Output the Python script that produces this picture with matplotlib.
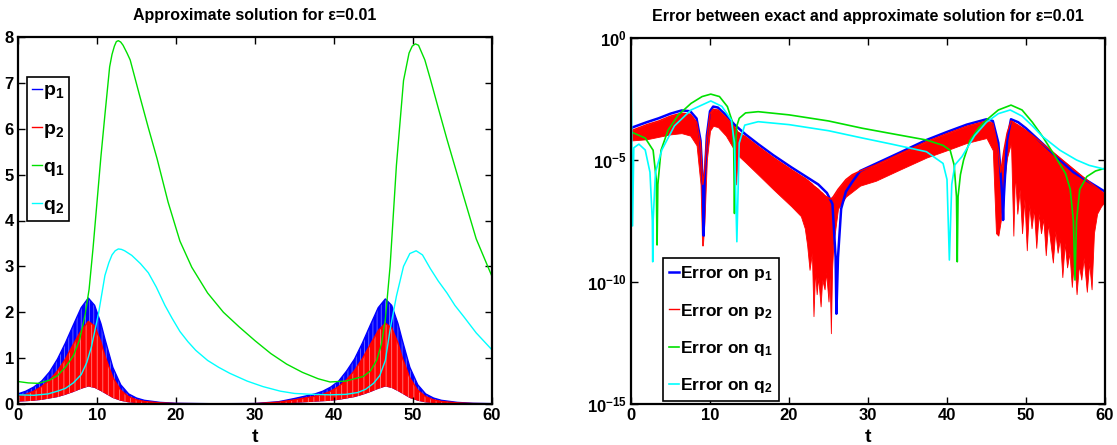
import matplotlib
matplotlib.use('Agg')
import matplotlib.pyplot as plt
from matplotlib.ticker import FixedLocator, NullLocator, FixedFormatter

plt.rcParams['font.family'] = ['Liberation Sans', 'DejaVu Sans']
plt.rcParams['font.weight'] = 'bold'
plt.rcParams['mathtext.fontset'] = 'custom'
plt.rcParams['mathtext.rm'] = 'Liberation Sans:bold'
plt.rcParams['mathtext.it'] = 'Liberation Sans:bold'
plt.rcParams['mathtext.bf'] = 'Liberation Sans:bold'
plt.rcParams['hatch.linewidth'] = 0.6

# ---- left panel: approximate solution ----
# p1, p2 oscillate fast: keep their upper / lower envelopes
t_p = [0, 1, 2, 3, 4, 5, 6, 7, 8, 8.9,
       9.7, 10.5, 11, 12, 13, 14, 15, 16, 18, 20,
       25, 30, 33, 35, 37.6, 38.6, 39.6, 40.6, 41.6, 42.6,
       43.6, 44.6, 45.6, 46.5, 47.3, 48.1, 48.6, 49.6, 50.6, 51.6,
       52.6, 53.6, 55.6, 57.6, 60]
p1_up = [0.22, 0.28, 0.37, 0.5, 0.7, 0.98, 1.33, 1.72, 2.1, 2.31,
         2.15, 1.75, 1.42, 0.8, 0.42, 0.22, 0.13, 0.08, 0.035, 0.015,
         0.005, 0.01, 0.05, 0.12, 0.22, 0.28, 0.37, 0.5, 0.72, 0.98,
         1.33, 1.72, 2.1, 2.29, 2.15, 1.75, 1.42, 0.8, 0.42, 0.22,
         0.13, 0.08, 0.035, 0.015, 0.008]
p2_up = [0.17, 0.21, 0.28, 0.38, 0.52, 0.72, 0.98, 1.3, 1.6, 1.8,
         1.7, 1.35, 1.05, 0.58, 0.3, 0.16, 0.09, 0.055, 0.025, 0.01,
         0.004, 0.008, 0.04, 0.09, 0.17, 0.21, 0.28, 0.38, 0.53, 0.73,
         0.99, 1.3, 1.6, 1.76, 1.66, 1.33, 1.03, 0.57, 0.3, 0.16,
         0.09, 0.055, 0.025, 0.01, 0.005]
p2_low = [0.05, 0.06, 0.07, 0.09, 0.12, 0.15, 0.2, 0.26, 0.33, 0.38,
          0.35, 0.28, 0.23, 0.13, 0.07, 0.035, 0.02, 0.012, 0.005, 0.003,
          0.001, 0.002, 0.01, 0.025, 0.05, 0.06, 0.07, 0.09, 0.12, 0.15,
          0.2, 0.26, 0.33, 0.38, 0.35, 0.28, 0.23, 0.13, 0.07, 0.035,
          0.02, 0.012, 0.005, 0.003, 0.001]

t_q1 = [0, 1.3, 2.6, 4, 5, 6, 7, 7.8, 8.5, 9.0,
        9.5, 10.0, 10.5, 11.0, 11.6, 11.9, 12.2, 12.45, 12.7, 13.0,
        13.3, 13.8, 14.2, 15.4, 16.5, 17.6, 19, 20.5, 22, 24,
        26, 28, 30, 32, 34, 36, 38, 39.5, 41.5, 43.7,
        44.6, 45.4, 46, 46.5, 47.1, 47.9, 48.8, 49.5, 49.9, 50.3,
        50.7, 51, 51.5, 52.2, 53.2, 54.3, 56.4, 58, 60]
q1 = [0.49, 0.46, 0.45, 0.52, 0.62, 0.8, 1.05, 1.4, 1.95, 2.5,
      3.4, 4.4, 5.4, 6.3, 7.35, 7.62, 7.8, 7.9, 7.92, 7.89,
      7.82, 7.65, 7.5, 6.72, 6.02, 5.35, 4.4, 3.55, 2.98, 2.42,
      2.0, 1.68, 1.38, 1.1, 0.87, 0.69, 0.55, 0.48, 0.5, 0.6,
      0.72, 0.95, 1.3, 1.85, 3.0, 5.2, 7.05, 7.65, 7.8, 7.85,
      7.82, 7.7, 7.5, 7.08, 6.45, 5.77, 4.53, 3.6, 2.78]

t_q2 = [0, 2, 3.8, 5, 6, 7, 8, 8.7, 9.3, 10.2,
        11.0, 11.5, 11.9, 12.3, 12.7, 13.1, 13.5, 14.4, 15.5, 16.5,
        17.5, 18.6, 19.5, 20.5, 21.5, 22.5, 24, 25.4, 26.8, 29,
        31, 33.2, 35, 37.3, 39.5, 41.5, 43, 44, 45, 45.8,
        46.5, 47.1, 47.9, 48.8, 49.6, 50.4, 51.2, 52.2, 53.2, 54.3,
        55.3, 56.4, 58, 60]
q2 = [0.2, 0.19, 0.22, 0.28, 0.34, 0.46, 0.64, 0.9, 1.25, 1.98,
      2.8, 3.08, 3.25, 3.34, 3.38, 3.37, 3.34, 3.24, 3.06, 2.86,
      2.55, 2.15, 1.87, 1.58, 1.36, 1.17, 0.95, 0.8, 0.67, 0.5,
      0.38, 0.28, 0.23, 0.21, 0.2, 0.21, 0.25, 0.32, 0.45, 0.62,
      0.95, 1.62, 2.35, 3.0, 3.28, 3.34, 3.25, 2.95, 2.68, 2.42,
      2.15, 1.91, 1.55, 1.18]

# ---- right panel: errors, stored as log10 exponents ----
t_e1 = [0, 0.3, 2, 3.5, 5, 6.4, 7.5, 8.3, 8.8, 9.1,
        9.2, 9.3, 9.6, 10.0, 10.4, 11, 12, 13.1, 14.5, 16.1,
        18, 20.3, 22, 23.7, 24.8, 25.5, 25.9, 26.0, 26.2, 26.6,
        27.2, 28, 29, 31, 34, 37.4, 40, 42.5, 45, 45.8,
        46.5, 47.0, 47.1, 47.2, 47.6, 48.1, 49, 50, 52, 54.3,
        56, 58, 60]
err_p1 = [-3.7, -3.65, -3.45, -3.29, -3.1, -2.97, -3.0, -3.3, -4.2, -6.0,
          -8.1, -6.0, -4.0, -3.0, -2.81, -2.85, -3.15, -3.55, -3.95, -4.35,
          -4.8, -5.3, -5.65, -6.0, -6.35, -6.8, -9.0, -11.3, -9.0, -7.0,
          -6.3, -5.9, -5.45, -5.15, -4.7, -4.18, -3.85, -3.55, -3.33, -3.4,
          -4.3, -6.5, -7.46, -6.5, -4.2, -3.33, -3.45, -3.7, -4.3, -5.0,
          -5.5, -5.9, -6.3]

t_e2 = [0, 2, 3.5, 5, 6.4, 7.5, 8.3, 8.8, 9.0, 9.1,
        9.3, 9.6, 10.0, 10.4, 11, 12, 13.1, 13.3, 13.5, 14.5,
        16.1, 18, 20.3, 21.5, 22.0, 22.3, 22.6, 22.9, 23.1, 23.3,
        23.5, 23.7, 24.0, 24.2, 24.5, 24.7, 25.0, 25.15, 25.3, 25.45,
        25.6, 26.2, 27.2, 28, 29, 31, 34, 37.4, 40, 42.5,
        45, 45.8, 46.2, 46.5, 46.8, 47.2, 47.6, 48.1, 48.4, 48.6,
        48.9, 49.2, 49.5, 49.8, 50.1, 50.4, 50.7, 51.0, 51.3, 51.6,
        51.9, 52.2, 52.5, 52.8, 53.1, 53.4, 53.7, 54.0, 54.3, 54.6,
        54.9, 55.2, 55.5, 55.8, 56.1, 56.4, 56.7, 57.0, 57.3, 57.7,
        58.0, 58.3, 58.6, 59.0, 59.5, 60]
err_p2_up = [-3.8, -3.55, -3.4, -3.2, -3.08, -3.12, -3.45, -4.3, -5.5, -6.0,
             -5.5, -4.1, -3.1, -2.92, -2.95, -3.25, -3.65, -3.75, -3.85, -4.05,
             -4.45, -4.9, -5.4, -5.65, -5.75, -5.82, -5.9, -5.98, -6.05, -6.1,
             -6.15, -6.2, -6.3, -6.35, -6.45, -6.5, -6.55, -6.58, -6.6, -6.55,
             -6.5, -6.2, -5.8, -5.6, -5.45, -5.2, -4.75, -4.25, -3.92, -3.62,
             -3.4, -3.5, -4.1, -4.6, -5.5, -4.6, -3.9, -3.4, -3.45, -3.5,
             -3.55, -3.62, -3.68, -3.75, -3.82, -3.9, -3.97, -4.05, -4.12, -4.2,
             -4.28, -4.36, -4.44, -4.52, -4.6, -4.68, -4.76, -4.84, -4.92, -5.0,
             -5.08, -5.16, -5.24, -5.32, -5.4, -5.48, -5.56, -5.64, -5.72, -5.82,
             -5.9, -5.98, -6.05, -6.15, -6.28, -6.4]
err_p2_low = [-4.2, -4.15, -4.05, -3.95, -3.9, -4.0, -4.4, -6.0, -8.5, -8.5,
              -7.5, -5.0, -3.8, -3.6, -3.65, -4.0, -4.6, -6.0, -4.8, -5.1,
              -5.6, -6.2, -6.9, -7.3, -7.8, -8.5, -9.5, -8.8, -11.4, -9.5,
              -10.5, -9.8, -11.0, -9.9, -10.3, -9.6, -10.8, -9.8, -12.1, -9.5,
              -8.5, -7.0, -6.5, -6.3, -6.05, -5.85, -5.4, -4.9, -4.6, -4.3,
              -4.1, -4.6, -8.0, -8.1, -7.5, -6.0, -4.9, -4.3, -8.1, -5.5,
              -7.2, -6.2, -8.0, -6.6, -8.7, -6.8, -7.8, -7.0, -8.6, -7.2,
              -8.0, -7.4, -8.9, -7.6, -8.4, -9.2, -7.9, -8.8, -8.2, -9.8,
              -8.4, -9.4, -8.8, -10.2, -9.0, -10.5, -9.3, -9.9, -9.0, -10.4,
              -9.2, -10.3, -8.0, -7.2, -6.9, -6.7]

t_e3 = [0, 1.8, 2.8, 3.2, 3.3, 3.4, 3.8, 4.7, 6, 7.6,
        9, 10.1, 11.2, 12.2, 12.8, 13.0, 13.1, 13.2, 13.4, 13.7,
        14.5, 16.1, 20, 25, 29.3, 33, 37.4, 39.5, 40.4, 40.9,
        41.2, 41.3, 41.4, 41.7, 42.1, 42.9, 44, 45, 46.5, 48.1,
        49.5, 50.8, 52.1, 53.5, 55.0, 55.6, 56.0, 56.2, 56.4, 56.8,
        57.7, 58.8, 60]
err_q1 = [-3.85, -4.1, -4.6, -5.8, -8.48, -6.0, -4.6, -3.77, -3.15, -2.68,
          -2.4, -2.3, -2.4, -2.81, -3.4, -4.5, -7.19, -4.5, -3.6, -3.29,
          -3.07, -3.02, -3.15, -3.4, -3.7, -3.92, -4.18, -4.4, -4.6, -5.2,
          -6.5, -9.17, -6.5, -5.6, -5.0, -4.2, -3.7, -3.36, -2.95, -2.75,
          -2.95, -3.45, -4.04, -4.75, -5.55, -6.2, -7.5, -9.92, -7.5, -6.2,
          -5.68, -5.45, -5.34]

t_e4 = [0, 0.1, 0.2, 0.35, 1.0, 1.8, 2.4, 2.7, 2.75, 2.8,
        3.1, 3.9, 5.5, 7.6, 10.1, 11.5, 12.7, 13.1, 13.4, 13.7,
        14.4, 16.1, 20, 25, 29.3, 33, 37.4, 39.5, 40.0, 40.3,
        40.6, 41.0, 41.9, 43.5, 45, 46.5, 48.0, 49.5, 50.8, 52.1,
        54.3, 56.4, 58, 60]
err_q2 = [-0.7, -4.0, -7.7, -4.5, -4.35, -4.59, -5.5, -7.5, -9.17, -7.5,
          -5.5, -4.59, -3.6, -2.95, -2.58, -2.8, -3.36, -4.3, -8.35, -4.3,
          -3.57, -3.43, -3.55, -3.8, -4.1, -4.35, -4.66, -5.14, -5.8, -9.1,
          -6.0, -5.2, -4.86, -4.0, -3.45, -3.1, -2.95, -3.2, -3.6, -4.04,
          -4.6, -5.0, -5.22, -5.38]

x_ticks = [0, 10, 20, 30, 40, 50, 60]
left_yticks = [0, 1, 2, 3, 4, 5, 6, 7, 8]
right_yticks = [1e0, 1e-5, 1e-10, 1e-15]
right_ylabels = [r'$10^{0}$', r'$10^{-5}$', r'$10^{-10}$', r'$10^{-15}$']

blue, red, green, cyan = '#0000ff', '#ff0000', '#00e000', '#00ffff'


def style_axes(ax):
    for s in ax.spines.values():
        s.set_linewidth(1.6)
    ax.tick_params(direction='in', top=True, right=True, length=5, width=1,
                   labelsize=12, pad=3)
    ax.set_xlim(0, 60)
    ax.set_xticks(x_ticks)
    ax.set_xlabel('t', fontsize=14, fontweight='bold', labelpad=4)


fig = plt.figure(figsize=(11.17, 4.45), dpi=100)
ax1 = fig.add_axes([18 / 1117, 1 - 404 / 445, 474 / 1117, 367 / 445])
ax2 = fig.add_axes([631 / 1117, 1 - 404 / 445, 474 / 1117, 366 / 445])

# left: the fast oscillations show as bands with thin gaps
ax1.fill_between(t_p, p2_low, p1_up, facecolor=blue, edgecolor='#7070ff', hatch='||||', lw=0)
ax1.plot(t_p, p1_up, color=blue, lw=1, label=r'p$_1$')
ax1.fill_between(t_p, p2_low, p2_up, facecolor=red, edgecolor='#ff8080', hatch='|||', lw=0)
ax1.plot(t_p, p2_up, color=red, lw=1, label=r'p$_2$')
ax1.plot(t_q1, q1, color=green, lw=1, label=r'q$_1$')
ax1.plot(t_q2, q2, color=cyan, lw=1, label=r'q$_2$')
ax1.set_ylim(0, 8)
ax1.set_yticks(left_yticks)
style_axes(ax1)
ax1.set_title('Approximate solution for ε=0.01', fontsize=11.5, fontweight='bold', pad=12)
leg = ax1.legend(loc='upper left', bbox_to_anchor=(0.019, 0.891), borderaxespad=0,
                 fontsize=14, handlelength=0.5, handletextpad=0.05, labelspacing=0.95,
                 borderpad=0.25, fancybox=False, framealpha=1, edgecolor='black')
leg.get_frame().set_linewidth(1.2)

# right
ax2.fill_between(t_e2, [10 ** v for v in err_p2_low], [10 ** v for v in err_p2_up],
                 facecolor=red, edgecolor=red, lw=0.6)
ax2.plot(t_e1, [10 ** v for v in err_p1], color=blue, lw=1.8, label=r'Error on p$_1$', zorder=1.5)
ax2.plot(t_e2, [10 ** v for v in err_p2_up], color=red, lw=1, label=r'Error on p$_2$')
ax2.plot(t_e3, [10 ** v for v in err_q1], color=green, lw=1.2, label=r'Error on q$_1$')
ax2.plot(t_e4, [10 ** v for v in err_q2], color=cyan, lw=1.2, label=r'Error on q$_2$')
ax2.set_yscale('log')
ax2.set_ylim(1e-15, 1)
ax2.yaxis.set_major_locator(FixedLocator(right_yticks))
ax2.yaxis.set_major_formatter(FixedFormatter(right_ylabels))
ax2.yaxis.set_minor_locator(NullLocator())
style_axes(ax2)
ax2.set_title('Error between exact and approximate solution for ε=0.01', fontsize=11.5,
              fontweight='bold', pad=12)
leg2 = ax2.legend(loc='lower left', bbox_to_anchor=(0.0675, 0.008), borderaxespad=0,
                  fontsize=12.5, handlelength=0.6, handletextpad=0.05, labelspacing=1.05,
                  borderpad=0.35, fancybox=False, framealpha=1, edgecolor='black')
leg2.get_frame().set_linewidth(1.2)

fig.savefig('out.png', dpi=100)
